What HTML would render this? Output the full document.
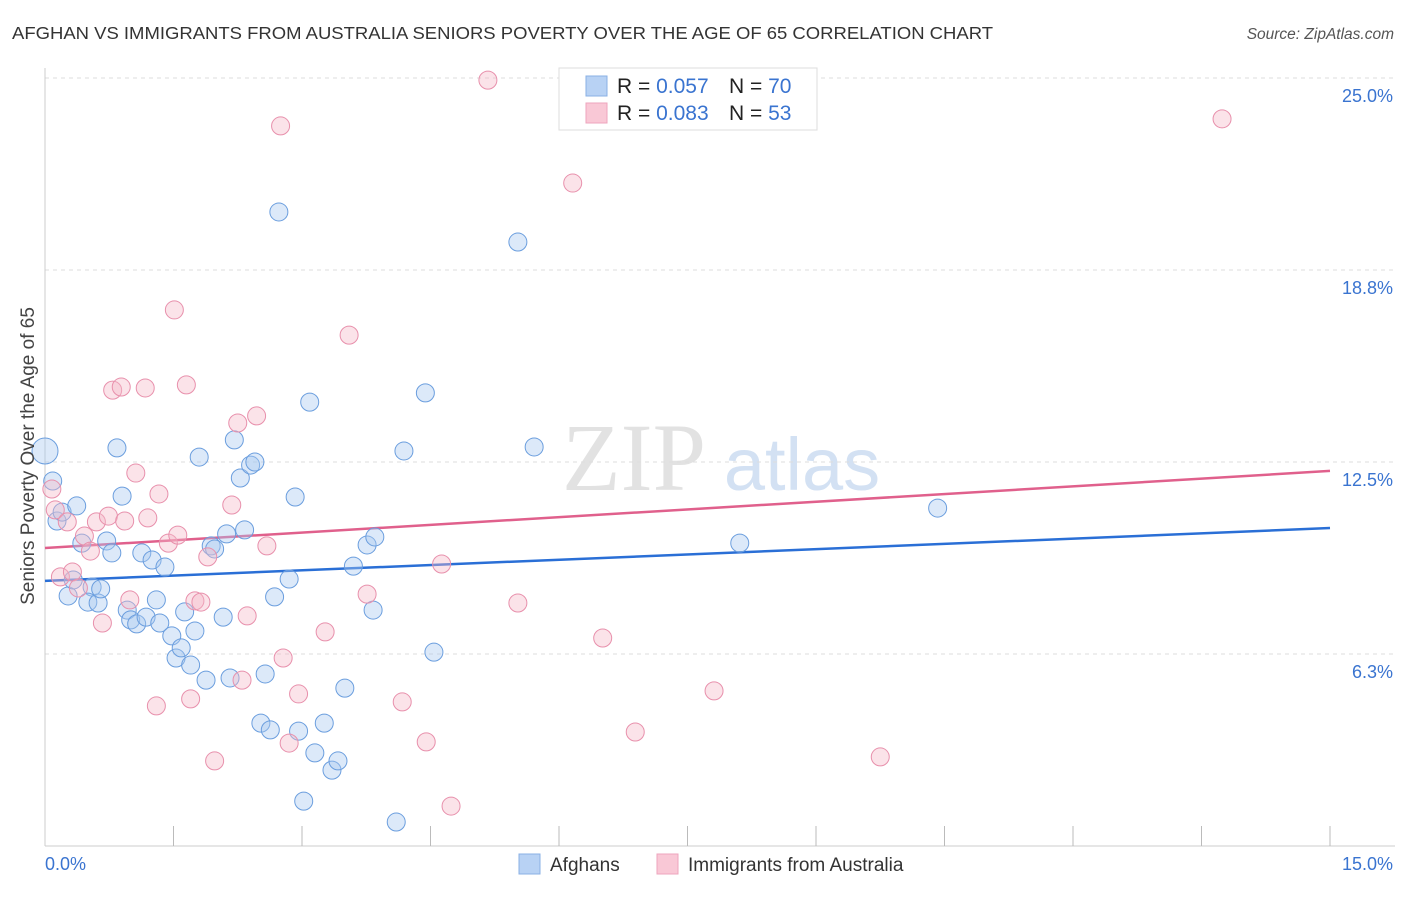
<!DOCTYPE html>
<html><head><meta charset="utf-8"><style>
body{margin:0;background:#fff;font-family:"Liberation Sans",sans-serif;}
svg text{font-family:"Liberation Sans",sans-serif;}
</style></head><body>
<svg id="chart" width="1406" height="892" viewBox="0 0 1406 892" xmlns="http://www.w3.org/2000/svg">
<text x="12" y="39" font-size="17.5" fill="#333" textLength="981" lengthAdjust="spacingAndGlyphs">AFGHAN VS IMMIGRANTS FROM AUSTRALIA SENIORS POVERTY OVER THE AGE OF 65 CORRELATION CHART</text>
<text x="1394" y="39" font-size="15.5" fill="#555" font-style="italic" text-anchor="end">Source: ZipAtlas.com</text>
<text x="634" y="490" font-size="96" fill="#e2e2e2" text-anchor="middle" style="font-family:'Liberation Serif',serif">ZIP</text>
<text x="802" y="490" font-size="74" fill="#d3e1f3" text-anchor="middle">atlas</text>
<g id="grid"></g><g id="axes"></g><g id="trends"></g><g id="pts"></g>
<text transform="translate(34,456) rotate(-90)" font-size="19" fill="#444" text-anchor="middle">Seniors Poverty Over the Age of 65</text>
<g>
<rect x="559" y="68" width="258" height="62" fill="#fff" stroke="#ddd"/>
<rect x="586" y="76" width="21" height="20" fill="#b8d2f4" stroke="#8ab0e4"/>
<rect x="586" y="103" width="21" height="20" fill="#f9c8d6" stroke="#eea5bd"/>
<text x="617" y="93" font-size="21" fill="#222">R = <tspan fill="#3a74d0">0.057</tspan></text>
<text x="729" y="93" font-size="21" fill="#222">N = <tspan fill="#3a74d0">70</tspan></text>
<text x="617" y="120" font-size="21" fill="#222">R = <tspan fill="#3a74d0">0.083</tspan></text>
<text x="729" y="120" font-size="21" fill="#222">N = <tspan fill="#3a74d0">53</tspan></text>
</g>
<g>
<rect x="519" y="854" width="21" height="20" fill="#b8d2f4" stroke="#8ab0e4"/>
<text x="550" y="871" font-size="19" fill="#333">Afghans</text>
<rect x="657" y="854" width="21" height="20" fill="#f9c8d6" stroke="#eea5bd"/>
<text x="688" y="871" font-size="19" fill="#333">Immigrants from Australia</text>
</g>
</svg>
<script>
const yTicks=[6.25,12.5,18.75,25];
const yTickLabels=["6.3%","12.5%","18.8%","25.0%"];
const xTickCount=10;
const blueX=[0,0.09,0.14,0.20,0.37,0.27,0.33,0.43,0.55,0.50,0.62,0.65,0.72,0.78,0.84,0.90,0.96,1.00,1.07,1.13,1.18,1.25,1.30,1.34,1.40,1.48,1.53,1.59,1.63,1.70,1.75,1.80,1.88,1.94,1.98,2.08,2.12,2.16,2.21,2.28,2.33,2.40,2.45,2.52,2.57,2.63,2.68,2.73,2.85,2.92,2.96,3.02,3.09,3.15,3.26,3.35,3.42,3.50,3.60,3.76,3.83,3.85,4.10,4.19,4.44,4.54,5.52,5.71,8.11,10.42];
const blueY=[12.86,11.88,10.58,10.87,11.07,8.14,8.66,9.86,8.43,7.94,7.91,8.37,9.93,9.54,12.96,11.39,7.68,7.36,7.23,9.54,7.45,9.31,8.01,7.26,9.08,6.84,6.12,6.45,7.62,5.89,7.00,12.66,5.40,9.77,9.67,7.45,10.16,5.47,13.22,11.98,10.29,12.40,12.50,4.00,5.60,3.78,8.11,20.64,8.69,11.36,3.74,1.46,14.45,3.03,4.00,2.47,2.77,5.14,9.11,9.80,7.68,10.06,0.78,12.86,14.75,6.31,19.66,12.99,9.86,11.00];
const pinkX=[0.08,0.12,0.18,0.26,0.32,0.39,0.46,0.53,0.60,0.67,0.74,0.79,0.89,0.93,0.99,1.06,1.17,1.20,1.30,1.33,1.44,1.51,1.55,1.65,1.70,1.75,1.82,1.90,1.98,2.18,2.25,2.30,2.36,2.47,2.59,2.75,2.78,2.85,2.96,3.27,3.55,3.76,4.17,4.45,4.63,4.74,5.17,5.52,6.16,6.51,6.89,7.81,9.75,13.74];
const pinkY=[11.62,10.94,8.76,10.55,8.92,8.40,10.09,9.60,10.55,7.26,10.74,14.84,14.94,10.58,8.01,12.14,14.91,10.68,4.56,11.46,9.86,17.45,10.12,15.01,4.79,7.98,7.94,9.41,2.77,11.10,13.77,5.40,7.49,14.00,9.77,23.44,6.12,3.35,4.95,6.97,16.63,8.20,4.69,3.39,9.18,1.30,24.93,7.91,21.58,6.77,3.71,5.05,2.90,23.67];
const blueTrend=[8.63,10.35];
const pinkTrend=[9.70,12.21];
const NS="http://www.w3.org/2000/svg";
const X0=45,X1=1330,Y0=846,PX=(X1-X0)/15,PY=192/6.25;
const sx=v=>X0+v*PX, sy=v=>Y0-v*PY;
function mk(tag,attrs,parent){const e=document.createElementNS(NS,tag);for(const k in attrs)e.setAttribute(k,attrs[k]);document.getElementById(parent).appendChild(e);return e;}
yTicks.forEach((t,i)=>{
 const l=mk('line',{x1:X0,x2:1395,y1:sy(t),y2:sy(t),stroke:'#ddd','stroke-dasharray':'4,4'},'grid');
 
 
 const tx=mk('text',{x:1393,y:sy(t)+24,'font-size':18,fill:'#3a74d0','text-anchor':'end'},'axes');
 tx.textContent=yTickLabels[i];
 
 
});
const ax=mk('line',{x1:X0,x2:X0,y1:68,y2:Y0,stroke:'#ccc'},'axes');


const bx=mk('line',{x1:X0,x2:1395,y1:Y0,y2:Y0,stroke:'#ccc'},'axes');


for(let i=1;i<=xTickCount;i++){
 const v=i*15/xTickCount;
 const t=mk('line',{x1:sx(v),x2:sx(v),y1:Y0-20,y2:Y0,stroke:'#bbb'},'axes');
 
 
}
const xl=mk('text',{x:45,y:870,'font-size':18,fill:'#3a74d0'},'axes');xl.textContent='0.0%';


const xr=mk('text',{x:1393,y:870,'font-size':18,fill:'#3a74d0','text-anchor':'end'},'axes');xr.textContent='15.0%';


function pts(xs,ys,fill,stroke,name){xs.forEach((x,i)=>{
 const c=mk('circle',{cx:sx(x),cy:sy(ys[i]),r:(i===0&&name==='afghan-point')?13:9,fill:fill,'fill-opacity':0.4,stroke:stroke,'stroke-width':1},'pts');
 
 
});}
pts(blueX,blueY,'#a8c8f0','#6b9ede','afghan-point');
pts(pinkX,pinkY,'#f5b8c8','#e890ac','australia-point');
const tb=mk('line',{x1:sx(0),y1:sy(blueTrend[0]),x2:sx(15),y2:sy(blueTrend[1]),stroke:'#2a6fd6','stroke-width':2.5},'trends');


const tp=mk('line',{x1:sx(0),y1:sy(pinkTrend[0]),x2:sx(15),y2:sy(pinkTrend[1]),stroke:'#e0608c','stroke-width':2.5},'trends');


</script>
</body></html>
